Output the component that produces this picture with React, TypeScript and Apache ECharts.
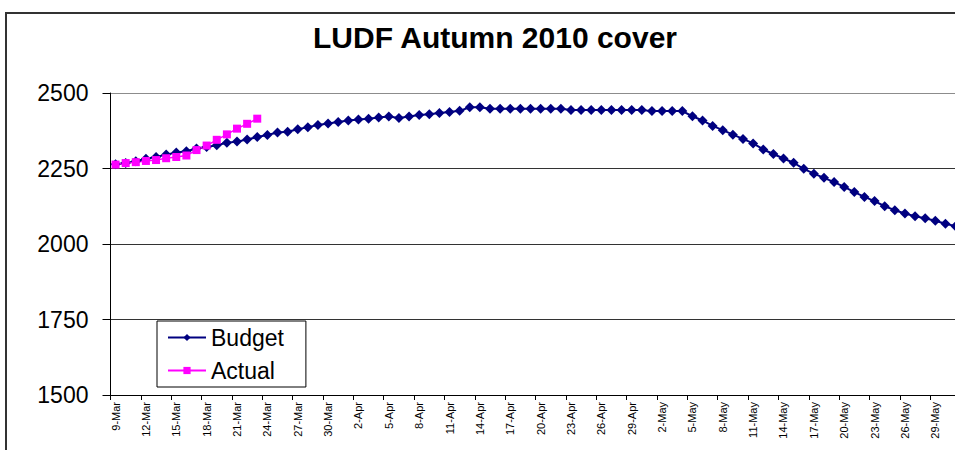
import React, { useEffect, useRef } from "react";
import * as echarts from "echarts";

const categories = [
  "9-Mar", "10-Mar", "11-Mar", "12-Mar", "13-Mar", "14-Mar", "15-Mar", "16-Mar", "17-Mar", "18-Mar",
  "19-Mar", "20-Mar", "21-Mar", "22-Mar", "23-Mar", "24-Mar", "25-Mar", "26-Mar", "27-Mar", "28-Mar",
  "29-Mar", "30-Mar", "31-Mar",
  "1-Apr", "2-Apr", "3-Apr", "4-Apr", "5-Apr", "6-Apr", "7-Apr", "8-Apr", "9-Apr", "10-Apr",
  "11-Apr", "12-Apr", "13-Apr", "14-Apr", "15-Apr", "16-Apr", "17-Apr", "18-Apr", "19-Apr", "20-Apr",
  "21-Apr", "22-Apr", "23-Apr", "24-Apr", "25-Apr", "26-Apr", "27-Apr", "28-Apr", "29-Apr", "30-Apr",
  "1-May", "2-May", "3-May", "4-May", "5-May", "6-May", "7-May", "8-May", "9-May", "10-May",
  "11-May", "12-May", "13-May", "14-May", "15-May", "16-May", "17-May", "18-May", "19-May", "20-May",
  "21-May", "22-May", "23-May", "24-May", "25-May", "26-May", "27-May", "28-May", "29-May", "30-May",
  "31-May",
];

const budget = [
  2264, 2268, 2274, 2282, 2288, 2296, 2303, 2307, 2316, 2321,
  2327, 2335, 2339, 2346, 2354, 2361, 2369, 2372, 2380, 2387,
  2394, 2399, 2404, 2409, 2412, 2415, 2419, 2422, 2417, 2422,
  2427, 2430, 2434, 2437, 2441, 2453, 2453, 2448, 2448, 2448,
  2448, 2448, 2448, 2448, 2448, 2444, 2444, 2444, 2444, 2444,
  2444, 2444, 2444, 2440, 2440, 2440, 2440, 2423, 2409, 2391,
  2377, 2362, 2348, 2333, 2313, 2298, 2283, 2269, 2249, 2233,
  2219, 2205, 2189, 2172, 2156, 2142, 2125, 2112, 2101, 2092,
  2085, 2077, 2067, 2059,
];

const actual = [
  2263, 2268, 2271, 2275, 2278, 2284, 2288, 2293, 2311, 2326,
  2345, 2363, 2382, 2398, 2415,
];

const yTicks = { min: 1500, max: 2500, interval: 250 };

const FONT = "'Liberation Sans', Arial, sans-serif";

export default function App() {
  const ref = useRef<HTMLDivElement>(null);

  useEffect(() => {
    if (!ref.current) return;
    const chart = echarts.init(ref.current, undefined, { renderer: "svg" });
    chart.setOption({
      animation: false,
      backgroundColor: "#ffffff",
      title: {
        text: "LUDF Autumn 2010 cover",
        left: "center",
        top: 22,
        padding: 0,
        textStyle: {
          fontFamily: FONT,
          fontSize: 30,
          fontWeight: "bold",
          color: "#000000",
        },
      },
      graphic: [
        {
          type: "rect",
          shape: { x: 6, y: 13, width: 1100, height: 600 },
          style: { fill: "none", stroke: "#333333", lineWidth: 2 },
          silent: true,
          z: -10,
        },
      ],
      legend: {
        orient: "vertical",
        left: 157,
        top: 321,
        padding: [5, 22, 5, 10],
        itemGap: 10,
        itemWidth: 38,
        itemHeight: 9,
        backgroundColor: "#ffffff",
        borderColor: "#000000",
        borderWidth: 1,
        borderRadius: 0,
        textStyle: { fontFamily: FONT, fontSize: 23, color: "#000000" },
        data: ["Budget", "Actual"],
      },
      grid: { left: 110.5, top: 93, right: 29.4, bottom: 75, containLabel: false },
      xAxis: {
        type: "category",
        data: categories,
        boundaryGap: true,
        axisLine: { show: true, lineStyle: { color: "#000000", width: 1 } },
        axisTick: { show: true, interval: 2, length: 5, lineStyle: { color: "#000000" } },
        axisLabel: {
          interval: 2,
          rotate: 90,
          margin: 7,
          fontFamily: FONT,
          fontSize: 11,
          color: "#000000",
        },
        splitLine: { show: false },
      },
      yAxis: {
        type: "value",
        min: yTicks.min,
        max: yTicks.max,
        interval: yTicks.interval,
        axisLine: { show: true, lineStyle: { color: "#000000", width: 1 } },
        axisTick: { show: true, length: 8, lineStyle: { color: "#000000" } },
        axisLabel: {
          margin: 22,
          fontFamily: FONT,
          fontSize: 23,
          color: "#000000",
          formatter: (v: number) => String(v),
        },
        splitLine: {
          show: true,
          lineStyle: { color: ["#333333", "#333333", "#333333", "#333333", "#8c8c8c"], width: 1.2 },
        },
      },
      series: [
        {
          name: "Budget",
          type: "line",
          data: budget,
          symbol: "diamond",
          symbolSize: 10,
          showAllSymbol: true,
          itemStyle: { color: "#000080" },
          lineStyle: { color: "#000080", width: 2 },
        },
        {
          name: "Actual",
          type: "line",
          data: actual,
          symbol: "rect",
          symbolSize: 8,
          showAllSymbol: true,
          itemStyle: { color: "#ff00ff" },
          lineStyle: { color: "#ff00ff", width: 1.5 },
        },
      ],
    });
    return () => chart.dispose();
  }, []);

  return (
    <div
      style={{
        position: "fixed",
        left: 0,
        top: 0,
        width: 955,
        height: 450,
        overflow: "hidden",
        background: "#ffffff",
      }}
    >
      <div ref={ref} style={{ width: 990, height: 470 }} />
    </div>
  );
}
